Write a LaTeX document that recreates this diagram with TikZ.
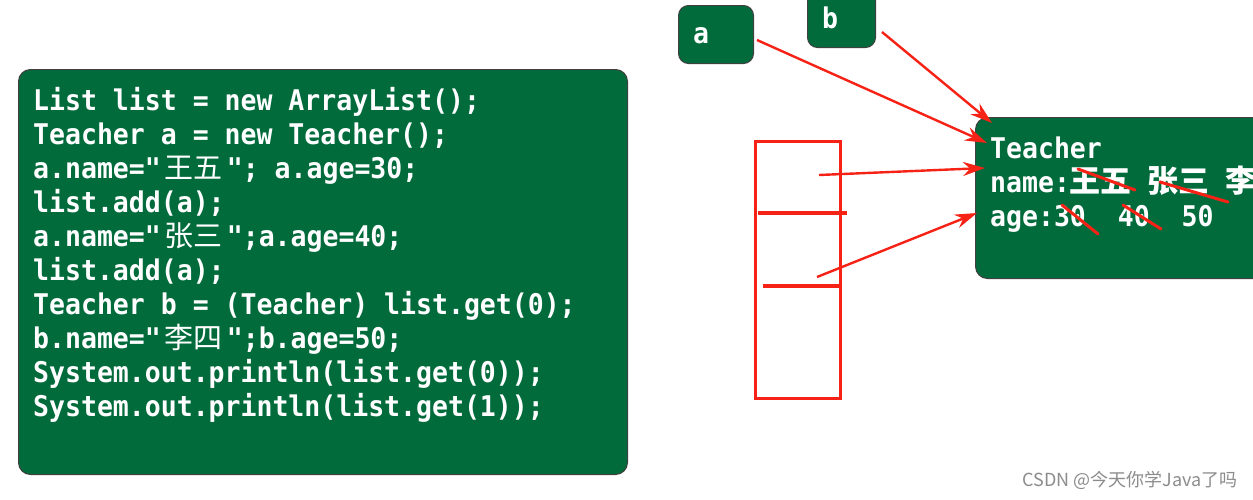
\documentclass[tikz,border=0pt]{standalone}
\usepackage{fontspec}
\usetikzlibrary{arrows.meta}
\newfontfamily\codefont{DejaVu Sans Mono}[FakeStretch=0.93]
\newfontfamily\cjk{Noto Sans CJK SC}
\definecolor{boxgreen}{RGB}{2,107,60}
\definecolor{arrowred}{RGB}{246,34,22}
\newcommand\zh[1]{\makebox[66pt]{\cjk\mdseries\fontsize{29}{34}\selectfont #1}}
\newcommand\zhb[1]{{\cjk\bfseries\fontsize{31}{34}\selectfont #1}}
\begin{document}
\begin{tikzpicture}[x=1pt,y=-1pt,
  greenbox/.style={draw=black!75, line width=1pt, fill=boxgreen, rounded corners=12pt, inner sep=0pt, anchor=north west},
  codeline/.style={anchor=base west, inner sep=0pt, text=white, font=\codefont\bfseries\fontsize{28.5}{34}\selectfont},
  redline/.style={draw=arrowred, line width=2.4pt},
  redarrow/.style={redline, -{Stealth[length=22pt,width=14pt]}},
  strike/.style={draw=arrowred, line width=3pt, line cap=round},
  listline/.style={draw=arrowred, line width=3.4pt},
]
\useasboundingbox (0,0) rectangle (1253,499);
\fill[white] (0,0) rectangle (1253,499);
\clip (0,0) rectangle (1253,499);

% code box
\node[greenbox, minimum width=609pt, minimum height=405pt] (code) at (18,69) {};
\foreach \t [count=\i] in {%
  {List list = new ArrayList();},
  {Teacher a = new Teacher();},
  {a.name="\zh{王五}"; a.age=30;},
  {list.add(a);},
  {a.name="\zh{张三}";a.age=40;},
  {list.add(a);},
  {Teacher b = (Teacher) list.get(0);},
  {b.name="\zh{李四}";b.age=50;},
  {System.out.println(list.get(0));},
  {System.out.println(list.get(1));}}
  \node[codeline] (l\i) at (33,{76+34*\i}) {\t};

% a and b variables
\node[greenbox, rounded corners=10pt, minimum width=75pt, minimum height=58pt] (abox) at (678,5) {};
\node[codeline] (alabel) at (693,43) {a};
\node[greenbox, rounded corners=10pt, minimum width=68pt, minimum height=58pt] (bbox) at (807,-11) {};
\node[codeline] (blabel) at (822,28) {b};

% Teacher object
\node[greenbox, minimum width=320pt, minimum height=161pt] (obj) at (975,117) {};
\node[codeline] (t1) at (990,158) {Teacher};
\node[codeline] (t2) at (990,192) {name:\zhb{王五} \zhb{张三} \zhb{李}};
\node[codeline] (t3) at (990,226) {age:30\ \ 40\ \ 50};

% strike-throughs
\draw[strike] (1078,169) -- (1135,190);
\draw[strike] (1160,182) -- (1228,202);
\draw[strike] (1062,205) -- (1098,234);
\draw[strike] (1123,205) -- (1161,229);

% list
\node[draw=arrowred, line width=3.4pt, minimum width=85pt, minimum height=257pt, inner sep=0pt, anchor=north west] (list) at (754,140) {};
\draw[listline] (758,213) -- (847,213);
\draw[listline] (763,286) -- (839,286);

% arrows
\coordinate (a1) at (757,40);  \coordinate (a2) at (987,143);
\coordinate (b1) at (882,32);  \coordinate (b2) at (992,123);
\coordinate (s1) at (819,175); \coordinate (e1) at (985,168);
\coordinate (s2) at (817,277); \coordinate (e2) at (977,213);
\draw[redarrow] (a1) -- (a2);
\draw[redarrow] (b1) -- (b2);
\draw[redarrow] (s1) -- (e1);
\draw[redarrow] (s2) -- (e2);

% watermark
\node[anchor=east, inner sep=0pt, text=black!45, font=\cjk\fontsize{18}{20}\selectfont] (wm) at (1238,480) {CSDN @今天你学Java了吗};
\end{tikzpicture}
\end{document}
